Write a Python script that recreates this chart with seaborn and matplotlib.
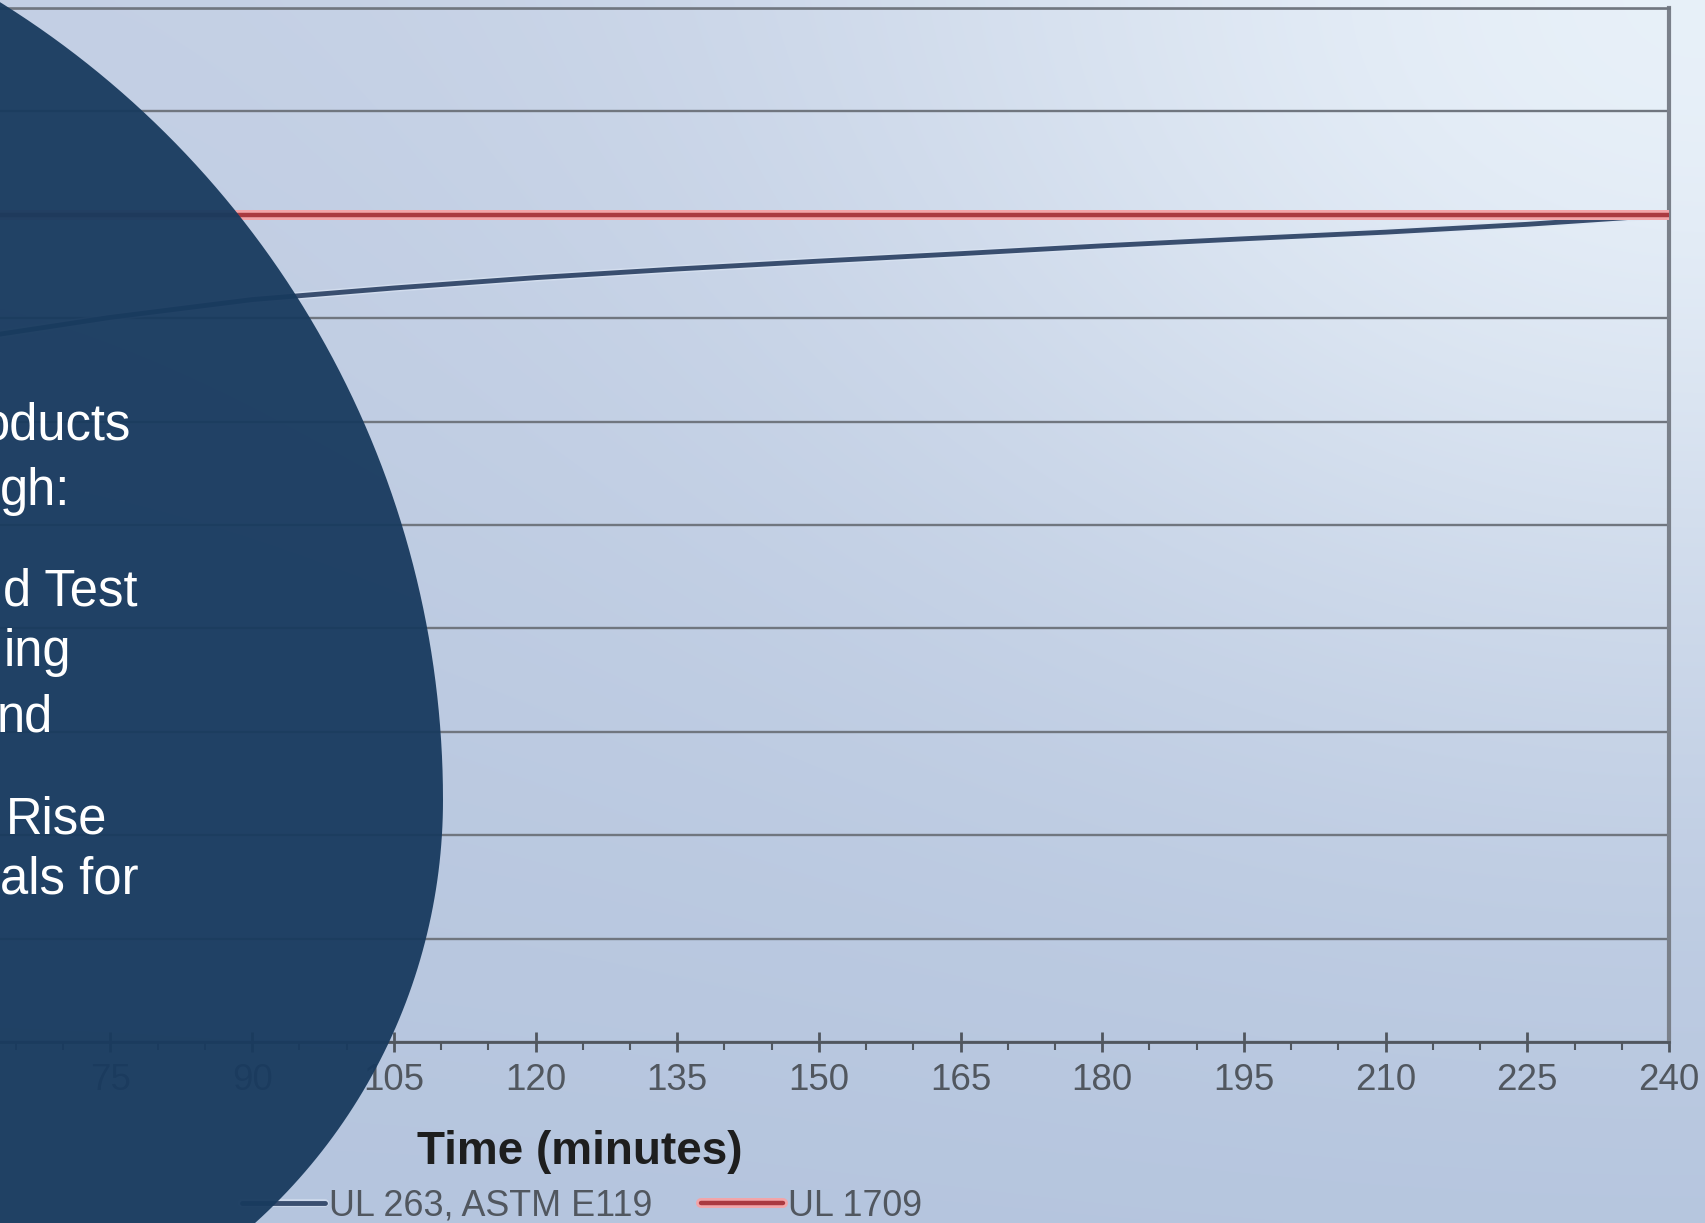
import numpy as np
import pandas as pd
import matplotlib
matplotlib.use("Agg")
import matplotlib.pyplot as plt
import matplotlib.patheffects as pe
from matplotlib.patches import Polygon
import seaborn as sns

# fire test curves, temperature (F) against time (minutes)
e119_minutes = [0, 5, 10, 15, 30, 45, 60, 75, 90, 105, 120, 135, 150, 165, 180, 195, 210, 225, 240]
e119_temp = [68, 1000, 1300, 1399, 1550, 1638, 1700, 1752, 1795, 1823, 1848, 1869, 1888, 1906, 1925, 1942, 1958, 1977, 2000]
ul1709_minutes = [0, 5, 240]
ul1709_temp = [68, 2000, 2000]

series_labels = ["UL 263, ASTM E119", "UL 1709"]
x_major = list(range(0, 241, 15))
x_minor = list(range(0, 241, 5))
y_grid = list(range(0, 2501, 250))

# the parts of the slide text that show on the dark disc (the rest is cut off)
slide_lines = ["oducts", "gh:", "d Test", "ing", "nd", "Rise", "als for"]

W, H = 1705, 1223
sns.set_style("white")
plt.rcParams["font.family"] = ["Liberation Sans", "DejaVu Sans"]

fig = plt.figure(figsize=(W / 100, H / 100), dpi=100)

# soft light-blue slide background
bg = fig.add_axes([0, 0, 1, 1], zorder=-5)
yy, xx = np.mgrid[0:H:4, 0:W:4]
top = np.array([195, 207, 228]) / 255
bottom = np.array([181, 197, 222]) / 255
light = np.array([236, 244, 251]) / 255
t = (yy / H)[..., None]
base = top * (1 - t) + bottom * t
w = 0.9 * np.exp(-(((xx - W) / 850.0) ** 2 + (yy / 650.0) ** 2))[..., None]
img = base * (1 - w) + light * w
bg.imshow(img, extent=[0, W, H, 0], aspect="auto", interpolation="bilinear")
bg.set_axis_off()

# chart axes: x=0 lies off the left edge of the picture
ax_left, ax_right, ax_top, ax_bottom = -598, 1669, 8, 1042
ax = fig.add_axes([ax_left / W, (H - ax_bottom) / H,
                   (ax_right - ax_left) / W, (ax_bottom - ax_top) / H])
ax.set_facecolor("none")

df_e119 = pd.DataFrame({"minutes": e119_minutes, "temp": e119_temp})
df_1709 = pd.DataFrame({"minutes": ul1709_minutes, "temp": ul1709_temp})

sns.lineplot(data=df_e119, x="minutes", y="temp", ax=ax, color="#394e6f",
             linewidth=3.5, label=series_labels[0], zorder=3,
             path_effects=[pe.Stroke(linewidth=5.6, foreground="#dce6f4", alpha=0.6), pe.Normal()])
sns.lineplot(data=df_1709, x="minutes", y="temp", ax=ax, color="#aa3a40",
             linewidth=3.2, label=series_labels[1], zorder=4,
             path_effects=[pe.Stroke(linewidth=7.2, foreground="#f2a5a9"), pe.Normal()])

ax.set_xlim(0, 240)
ax.set_ylim(0, 2500)
ax.set_xticks(x_major)
# labels left of the picture edge cannot show, so leave them blank
ax.set_xticklabels([str(v) if v >= 75 else "" for v in x_major])
ax.set_xticks(x_minor, minor=True)
ax.set_yticks(y_grid)
ax.set_yticklabels([])
ax.grid(axis="y", color="#70767f", linewidth=1.7)
ax.grid(axis="x", visible=False)

ax.tick_params(axis="x", which="both", bottom=True)
ax.tick_params(axis="x", which="major", direction="inout", length=14, width=2.0,
               color="#50565e", labelsize=26.5, labelcolor="#51575f", pad=8)
ax.tick_params(axis="x", which="minor", direction="out", length=5.5, width=1.5,
               color="#50565e")
ax.tick_params(axis="y", left=False, length=0)

ax.spines["left"].set_visible(False)
ax.spines["top"].set_color("#70767f")
ax.spines["top"].set_linewidth(1.9)
ax.spines["right"].set_color("#7a808a")
ax.spines["right"].set_linewidth(3.0)
ax.spines["bottom"].set_color("#50565e")
ax.spines["bottom"].set_linewidth(2.0)

ax.set_ylabel("")
ax.set_xlabel("Time (minutes)", fontsize=33, fontweight="bold", color="#1e1e1e")
ax.xaxis.set_label_coords((580 - ax_left) / (ax_right - ax_left),
                          (ax_bottom - 1152) / (ax_bottom - ax_top))
ax.xaxis.label.set_va("center")

handles, labels = ax.get_legend_handles_labels()
ax.get_legend().remove()
fig.legend(handles, labels, loc="center", bbox_to_anchor=(582 / W, (H - 1206) / H),
           ncol=2, frameon=False, fontsize=25.8, labelcolor="#51575f",
           handlelength=2.3, handletextpad=0.12, columnspacing=1.35)

# dark disc of the slide with its white text, drawn over the chart
ov = fig.add_axes([0, 0, 1, 1], zorder=10)
ov.set_xlim(0, W)
ov.set_ylim(H, 0)
ov.set_axis_off()
ov.patch.set_alpha(0)

# egg-like outline: wider arc above the widest point, tighter arc below
tip_x, tip_y = 443, 800
r_up, r_down = 940, 570
a_up = np.linspace(np.pi, 2 * np.pi, 200)
a_down = np.linspace(0, np.pi, 200)
outline = np.vstack([
    np.column_stack([tip_x - r_up + r_up * np.cos(a_up), tip_y + r_up * np.sin(a_up)]),
    np.column_stack([tip_x - r_down + r_down * np.cos(a_down), tip_y + r_down * np.sin(a_down)]),
])
ov.add_patch(Polygon(outline, closed=True, facecolor="#183a5e", alpha=0.95, lw=0))

text_left = [-18, 0, 3, 4, -3, 6, 0]
text_base = [439, 505, 605, 666, 732, 834, 894]
for s, xl, yb in zip(slide_lines, text_left, text_base):
    ov.text(xl, yb, s, ha="left", va="baseline", color="white", fontsize=36.5)

fig.savefig("out.png", dpi=100)
